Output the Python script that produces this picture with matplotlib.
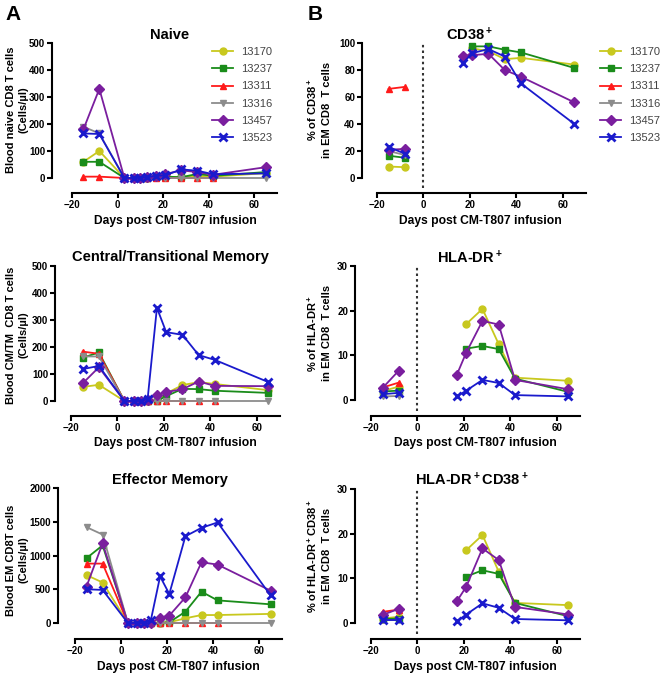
import numpy as np
import matplotlib
matplotlib.use("Agg")
import matplotlib.pyplot as plt

plt.rcParams['font.family'] = ['Liberation Sans', 'DejaVu Sans']
plt.rcParams['mathtext.fontset'] = 'custom'
plt.rcParams['mathtext.rm'] = 'Liberation Sans:bold'
plt.rcParams['mathtext.bf'] = 'Liberation Sans:bold'
plt.rcParams['mathtext.default'] = 'rm'

nan = np.nan
animals = ['13170', '13237', '13311', '13316', '13457', '13523']
colors = ['#c8c81e', '#1a8c1a', '#ff1a1a', '#8c8c8c', '#7a1e9e', '#1a1acc']
markers = ['o', 's', '^', 'v', 'D', 'x']

days_A = [-15, -8, 3, 7, 10, 13, 17, 21, 28, 35, 42, 65]
days_B = [-15, -8, 17, 21, 28, 35, 42, 65]

naive = [
    [60, 100, 0, 0, 0, 0, 3, 5, 3, 8, 5, 18],
    [60, 60, 0, 0, 0, 0, 2, 5, 3, 15, 8, 22],
    [5, 5, 0, 0, 0, 0, 0, 0, 0, 0, 0, nan],
    [190, 165, 0, 0, 0, 0, 0, 0, 0, 0, 0, 0],
    [180, 330, 0, 0, 0, 2, 6, 15, 28, 22, 12, 40],
    [165, 163, 0, 0, 0, 3, 8, 10, 32, 27, 14, 17],
]
central = [
    [52, 60, 0, 0, 0, 0, 2, 28, 59, 70, 63, 40],
    [160, 180, 0, 0, 0, 0, 0, 18, 45, 44, 38, 30],
    [183, 175, 0, 0, 0, 0, 0, 0, 0, 0, 0, nan],
    [165, 165, 0, 0, 0, 0, 0, 0, 0, 0, 0, 0],
    [65, 125, 0, 0, 0, 5, 24, 33, 44, 72, 56, 55],
    [118, 130, 0, 0, 0, 8, 345, 255, 245, 170, 152, 70],
]
effector = [
    [710, 600, 0, 0, 0, 0, 5, 10, 70, 118, 118, 135],
    [960, 1150, 0, 0, 0, 0, 0, 10, 168, 464, 335, 277],
    [880, 880, 0, 0, 0, 0, 0, 0, 0, 0, 0, nan],
    [1420, 1310, 0, 0, 0, 0, 0, 0, 0, 0, 0, 0],
    [540, 1180, 0, 0, 0, 0, 80, 110, 380, 900, 865, 480],
    [500, 490, 0, 0, 0, 45, 690, 430, 1285, 1410, 1490, 410],
]
cd38 = [
    [8.5, 8, nan, 96, 94, 88, 89, 84],
    [16.5, 15, nan, 97.5, 97.5, 95, 93, 81.5],
    [66, 67.5, nan, nan, nan, nan, nan, nan],
    [20, 17, nan, nan, nan, nan, nan, nan],
    [21, 21.5, 90.5, 91, 92, 80, 75, 56],
    [23, 18, 85, 92.5, 95.5, 90, 70, 40],
]
hladr = [
    [2.0, 3.0, nan, 17, 20.4, 12.5, 5, 4.3],
    [1.9, 2.1, nan, 11.5, 12.1, 11.4, 4.8, 1.8],
    [2.8, 3.9, nan, nan, nan, nan, nan, nan],
    [0.8, 0.9, nan, nan, nan, nan, nan, nan],
    [2.7, 6.6, 5.7, 10.6, 17.7, 16.9, 4.5, 2.4],
    [1.3, 1.6, 0.8, 2.1, 4.5, 3.8, 1.1, 0.8],
]
hladr_cd38 = [
    [1.0, 1.4, nan, 16.3, 19.7, 11.5, 4.5, 4.0],
    [0.9, 1.0, nan, 10.4, 11.8, 11.0, 4.5, 1.5],
    [2.5, 3.0, nan, nan, nan, nan, nan, nan],
    [0.6, 0.6, nan, nan, nan, nan, nan, nan],
    [1.8, 3.2, 4.9, 8.1, 16.7, 14.1, 3.6, 1.9],
    [0.6, 0.6, 0.4, 1.9, 4.4, 3.4, 0.9, 0.6],
]

W, H = 660, 674
fig = plt.figure(figsize=(W / 100, H / 100), dpi=100)


def make_ax(left, xm20, x70, top, zero, bottom, ymax, ystep):
    ax = fig.add_axes([left / W, 1 - bottom / H, (x70 - left) / W, (bottom - top) / H])
    ppd = (x70 - xm20) / 90.0
    ax.set_xlim(-20 - (xm20 - left) / ppd, 70)
    ppu = (zero - top) / ymax
    ax.set_ylim(-(bottom - zero) / ppu, ymax)
    for s in ['top', 'right']:
        ax.spines[s].set_visible(False)
    ax.spines['left'].set_bounds(0, ymax)
    ax.spines['bottom'].set_bounds(-20, 70)
    for s in ['left', 'bottom']:
        ax.spines[s].set_linewidth(1.5)
    ax.set_xticks([-20, 0, 20, 40, 60])
    ax.set_yticks(np.arange(0, ymax + 0.1, ystep))
    ax.tick_params(width=1.5, length=3.5, labelsize=7, pad=1.5)
    for lab in ax.get_xticklabels() + ax.get_yticklabels():
        lab.set_fontweight('bold')
    return ax


def draw(ax, days, data, split=None):
    for vals, c, m, name in zip(data, colors, markers, animals):
        kw = dict(color=c, marker=m, lw=1.3, ms=5, mec=c, mfc=c, clip_on=False)
        if m == 'x':
            kw.update(ms=6, mew=2)
        elif m == 'D':
            kw.update(ms=5)
        if split is None:
            ax.plot(days, vals, label=name, **kw)
        else:
            ax.plot(days[:split], vals[:split], label=name, **kw)
            ax.plot(days[split:], vals[split:], **kw)


def ftext(x, y, s, **kw):
    fig.text(x / W, 1 - y / H, s, ha='center', va='center', **kw)


xl = 'Days post CM-T807 infusion'

# Column A
axA1 = make_ax(52, 72, 277, 43, 178, 193, 500, 100)
draw(axA1, days_A, naive)
axA2 = make_ax(55, 71, 280, 266, 401, 416, 500, 100)
draw(axA2, days_A, central)
axA3 = make_ax(58, 75, 282, 488, 623, 639, 2000, 500)
draw(axA3, days_A, effector)

# Column B
axB1 = make_ax(362, 377, 586, 43, 178, 193, 100, 20)
draw(axB1, days_B, cd38, split=2)
axB2 = make_ax(355, 371, 580, 266, 400, 416, 30, 10)
draw(axB2, days_B, hladr, split=2)
axB3 = make_ax(355, 371, 580, 489, 623, 639, 30, 10)
draw(axB3, days_B, hladr_cd38, split=2)

for ax in (axB1, axB2, axB3):
    ax.axvline(0, ymin=0.035, ymax=1, color='#333333', lw=1.5, ls=(0, (1.2, 1.5)), zorder=0)

# legends
for ax, lx in ((axA1, 212), (axB1, 600)):
    ax.legend(loc='upper left', bbox_to_anchor=(lx / W, 1 - 47 / H),
              bbox_transform=fig.transFigure, frameon=False, fontsize=8,
              handlelength=1.9, handletextpad=0.7, labelspacing=0.65,
              borderpad=0, borderaxespad=0, labelcolor='#444444')

# titles
tkw = dict(fontsize=10.5, fontweight='bold')
ftext(170, 35, 'Naive', **tkw)
ftext(170, 257, 'Central/Transitional Memory', **tkw)
ftext(170, 480, 'Effector Memory', **tkw)
ftext(470, 35, r'CD38$^+$', **tkw)
ftext(470, 258, r'HLA-DR$^+$', **tkw)
ftext(472, 480, r'HLA-DR$^+$CD38$^+$', **tkw)

# x labels
for x, y in ((175, 221), (175, 443), (178, 667), (480, 221), (475, 443), (475, 667)):
    ftext(x, y, xl, fontsize=8.7, fontweight='bold')

# y labels
ylab_kw = dict(fontsize=8, fontweight='bold', rotation=90, linespacing=1.35)
ftext(17, 110, 'Blood naive CD8 T cells\n(Cells/µl)', **ylab_kw)
ftext(17, 335, 'Blood CM/TM  CD8 T cells\n(Cells/µl)', **ylab_kw)
ftext(17, 560, 'Blood EM CD8T cells\n(Cells/µl)', **ylab_kw)
ftext(319, 110, '% of CD38$^+$\nin EM CD8  T cells', **ylab_kw)
ftext(319, 333, '% of HLA-DR$^+$\nin EM CD8  T cells', **ylab_kw)
ftext(319, 556, '% of HLA-DR$^+$CD38$^+$\nin EM CD8  T cells', **ylab_kw)

# panel letters
ftext(13, 14, 'A', fontsize=15, fontweight='bold')
ftext(315, 14, 'B', fontsize=15, fontweight='bold')

fig.savefig('out.png', dpi=100)
